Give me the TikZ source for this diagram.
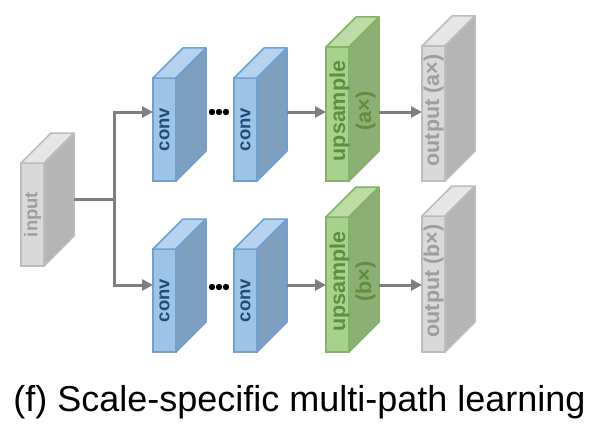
\documentclass[tikz,border=0pt]{standalone}
\usepackage{fontspec}
\setmainfont{Liberation Sans}
\usetikzlibrary{arrows.meta,calc}
\definecolor{bF}{HTML}{9DC3E6}\definecolor{bT}{HTML}{B5D3EF}\definecolor{bS}{HTML}{7F9FBF}\definecolor{bE}{HTML}{6FA0D3}\definecolor{bX}{HTML}{1F4E79}
\definecolor{gF}{HTML}{A9D18E}\definecolor{gT}{HTML}{BCDCA6}\definecolor{gS}{HTML}{8BAF74}\definecolor{gE}{HTML}{82B366}\definecolor{gX}{HTML}{5E8F3E}
\definecolor{kF}{HTML}{D9D9D9}\definecolor{kT}{HTML}{E6E6E6}\definecolor{kS}{HTML}{B5B5B5}\definecolor{kE}{HTML}{BDBDBD}\definecolor{kX}{HTML}{9E9E9E}
\definecolor{arrC}{HTML}{7F7F7F}
\tikzset{
  bfront/.style={draw=bE,fill=bF,line width=1.5pt},
  btop/.style={draw=bE,fill=bT,line width=1.5pt,line join=round},
  bside/.style={draw=bE,fill=bS,line width=1.5pt,line join=round},
  gfront/.style={draw=gE,fill=gF,line width=1.5pt},
  gtop/.style={draw=gE,fill=gT,line width=1.5pt,line join=round},
  gside/.style={draw=gE,fill=gS,line width=1.5pt,line join=round},
  kfront/.style={draw=kE,fill=kF,line width=1.5pt},
  ktop/.style={draw=kE,fill=kT,line width=1.5pt,line join=round},
  kside/.style={draw=kE,fill=kS,line width=1.5pt,line join=round},
  smalllbl/.style={font=\fontsize{18.5}{22}\selectfont\bfseries,rotate=90,inner sep=0pt},
  biglbl/.style={font=\fontsize{21.5}{26}\selectfont\bfseries,rotate=90,inner sep=0pt,align=center},
  conn/.style={draw=arrC,line width=3pt},
  arr/.style={conn,-{Triangle[length=11pt,width=11pt]}},
}
\newcommand\blockbox[5]{%
  \node[#5front,minimum width=23pt,minimum height=#4pt,inner sep=0pt,outer sep=0pt,anchor=north west] (#1) at (#2,#3) {};
  \draw[#5top] (#1.north west) -- ++(30,-30) -- ++(23,0) -- (#1.north east) -- cycle;
  \draw[#5side] (#1.north east) -- ++(30,-30) -- ++(0,#4) -- (#1.south east) -- cycle;
}
\begin{document}
\begin{tikzpicture}[x=1pt,y=-1pt]
\useasboundingbox (0,0) rectangle (596,436);
\coordinate (rowA) at (0,112);
\coordinate (rowB) at (0,285);
\coordinate (inrow) at (0,199);
\coordinate (split) at (114,199);
% blocks
\blockbox{in}{21}{163}{103}{k}
\blockbox{c1a}{153}{78}{103}{b}
\blockbox{c1b}{234}{78}{103}{b}
\blockbox{u1}{326}{47}{134}{g}
\blockbox{o1}{422}{46}{135}{k}
\blockbox{c2a}{153}{249}{103}{b}
\blockbox{c2b}{234}{249}{103}{b}
\blockbox{u2}{326}{217}{135}{g}
\blockbox{o2}{422}{216}{136}{k}
% labels
\node[smalllbl,text=kX] at (in.center) {input};
\node[smalllbl,text=bX] at (c1a.center) {conv};
\node[smalllbl,text=bX] at (c1b.center) {conv};
\node[smalllbl,text=bX] at (c2a.center) {conv};
\node[smalllbl,text=bX] at (c2b.center) {conv};
\node[biglbl,text=gX] at ([xshift=15pt,yshift=3pt]u1.center) {upsample\\(a×)};
\node[biglbl,text=gX] at ([xshift=15pt,yshift=3pt]u2.center) {upsample\\(b×)};
\node[biglbl,text=kX] at ([yshift=3pt]o1.center) {output (a×)};
\node[biglbl,text=kX] at ([yshift=3pt]o2.center) {output (b×)};
% connectors
\draw[conn] ([xshift=30pt]in.east |- inrow) -- (split);
\draw[arr] (split) |- (c1a.west |- rowA);
\draw[arr] (split) |- (c2a.west |- rowB);
\draw[arr] ([xshift=30pt]c1b.east |- rowA) -- (u1.west |- rowA);
\draw[arr] ([xshift=30pt]u1.east |- rowA) -- (o1.west |- rowA);
\draw[arr] ([xshift=30pt]c2b.east |- rowB) -- (u2.west |- rowB);
\draw[arr] ([xshift=30pt]u2.east |- rowB) -- (o2.west |- rowB);
% dots
\foreach \xx in {212,219,226} {
  \fill (\xx,112) circle (3.2pt);
  \fill (\xx,287) circle (3.2pt);
}
% caption
\node[anchor=base,font=\fontsize{36}{40}\selectfont,inner sep=0pt] (cap) at (299.5,411) {(f) Scale-specific multi-path learning};
\end{tikzpicture}
\end{document}
